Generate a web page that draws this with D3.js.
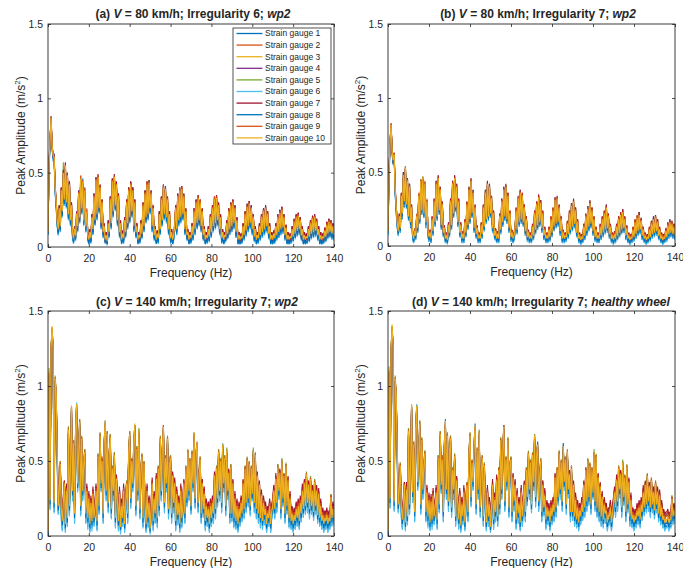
<!DOCTYPE html>
<html>
<head>
<meta charset="utf-8">
<script src="https://cdn.jsdelivr.net/npm/d3@7/dist/d3.min.js"></script>
<style>
  body { margin: 0; background: #fff; }
  svg { display: block; }
  text { font-family: "Liberation Sans", Arial, Helvetica, sans-serif; fill: #262626; white-space: pre; }
</style>
</head>
<body>
<svg id="fig" width="683" height="568"></svg>
<script>
// ---- shared categories / ticks ----
const gaugeNames = ["Strain gauge 1","Strain gauge 2","Strain gauge 3","Strain gauge 4","Strain gauge 5",
                    "Strain gauge 6","Strain gauge 7","Strain gauge 8","Strain gauge 9","Strain gauge 10"];
const gaugeColors = ["#0072BD","#D95319","#EDB120","#7E2F8E","#77AC30","#4DBEEE","#A2142F","#0072BD","#D95319","#EDB120"];
const freqStepHz = 0.5;          // spectra sampled every 0.5 Hz from 0 Hz (281 bins up to 140 Hz)
const ampScale = 0.01;           // amplitudes stored in hundredths of m/s^2
const xTicks = [0, 20, 40, 60, 80, 100, 120, 140];
const yTicks = [0, 0.5, 1, 1.5];
const yTickLabels = ["0", "0.5", "1", "1.5"];

// ---- (a) V = 80 km/h, irregularity 6, wp2 ----
const sgA1 = [8,50,70,84,70,58,63,36,27,14,8,24,10,36,20,52,28,53,26,50,
18,44,14,26,6,3,9,5,20,10,38,16,44,22,46,15,40,10,22,5,
3,7,3,22,8,32,15,47,18,45,28,38,12,32,6,12,3,5,2,13,
7,34,12,42,20,49,25,40,14,36,6,13,3,6,3,15,7,28,12,40,
16,44,20,40,10,28,6,11,3,5,3,13,6,26,10,38,16,40,18,45,
22,38,10,24,5,9,3,6,3,19,9,30,14,42,18,41,16,30,8,20,
3,7,2,5,11,24,8,32,14,40,16,37,18,36,8,22,5,7,2,5,
3,11,5,22,8,32,12,31,14,32,10,22,5,9,2,5,3,9,4,18,
7,24,10,34,12,31,14,30,8,18,3,7,2,5,4,13,6,22,8,30,
10,28,12,28,6,16,2,5,2,4,3,11,5,20,7,29,10,27,12,28,
8,18,4,9,2,5,3,11,5,18,6,22,8,28,10,20,6,11,2,5,
2,6,3,11,5,18,6,25,8,23,9,22,5,10,2,5,2,4,3,9,
4,15,6,22,7,19,8,20,5,9,2,5,2,4,3,9,4,14,6,21,
6,18,7,19,5,10,2,5,2,4,3,8,4,13,6,19,7,14,5,16,5];
const sgA2 = [12,58,74,86,66,64,58,42,32,20,14,28,16,40,26,48,34,56,32,50,
24,44,20,30,12,8,14,10,24,16,38,22,48,28,42,20,40,16,26,10,
7,12,8,22,14,36,20,44,24,48,28,42,18,32,12,16,7,10,6,18,
12,34,18,46,26,45,30,44,20,36,12,18,7,11,8,20,12,32,18,40,
22,40,26,40,16,32,12,16,7,10,8,18,11,30,16,38,22,44,24,41,
28,38,16,28,10,14,7,11,8,24,14,34,20,41,24,37,22,34,14,24,
8,12,7,10,16,28,14,36,20,36,22,41,24,32,14,26,10,12,7,10,
8,16,10,26,14,28,18,35,20,28,16,26,10,14,7,10,8,14,9,22,
12,28,16,30,18,35,20,26,14,22,8,12,7,10,9,18,11,26,14,26,
16,32,18,24,12,20,7,10,7,9,8,16,10,24,13,25,16,31,18,24,
14,22,9,14,7,10,8,16,10,22,12,26,14,24,16,24,11,16,7,10,
7,11,8,16,10,22,12,21,14,27,15,18,10,15,7,10,7,9,8,14,
9,19,11,18,13,23,14,16,10,14,7,10,7,9,8,14,9,18,11,17,
12,22,13,15,10,14,7,10,7,9,8,13,9,17,11,15,12,18,11,12,10];
const sgA3 = [9,54,71,86,67,61,59,39,29,17,11,25,13,37,23,49,31,54,29,47,
21,41,17,27,9,5,11,7,21,13,35,19,45,25,43,17,37,13,23,7,
4,9,5,19,11,33,17,44,21,46,25,39,15,29,9,13,4,7,3,15,
9,31,15,43,23,46,27,41,17,33,9,15,4,8,5,17,9,29,15,37,
19,41,23,37,13,29,9,13,4,7,5,15,8,27,13,35,19,41,21,42,
25,35,13,25,7,11,4,8,5,21,11,31,17,39,21,38,19,31,11,21,
5,9,4,7,13,25,11,33,17,37,19,38,21,33,11,23,7,9,4,7,
5,13,7,23,11,29,15,32,17,29,13,23,7,11,4,7,5,11,6,19,
9,25,13,31,15,32,17,27,11,19,5,9,4,7,6,15,8,23,11,27,
13,29,15,25,9,17,4,7,4,6,5,13,7,21,10,26,13,28,15,25,
11,19,6,11,4,7,5,13,7,19,9,23,11,25,13,21,8,13,4,7,
4,8,5,13,7,19,9,22,11,24,12,19,7,12,4,7,4,6,5,11,
6,16,8,19,10,20,11,17,7,11,4,7,4,6,5,11,6,15,8,18,
9,19,10,16,7,11,4,7,4,6,5,10,6,14,8,16,9,15,8,13,7];
const sgA4 = [11,52,73,85,70,60,62,38,32,16,10,28,12,40,22,48,34,52,32,46,
20,44,16,30,8,4,14,6,24,12,38,18,44,28,42,20,36,16,22,10,
4,12,4,22,10,36,16,43,24,45,28,38,18,28,12,12,4,10,3,18,
8,34,14,46,22,45,30,40,20,32,12,14,4,11,5,20,8,32,14,40,
18,44,22,40,12,32,8,16,4,10,5,18,8,30,12,38,18,44,20,41,
28,34,16,24,10,10,4,11,5,24,10,34,16,38,24,37,22,30,14,20,
4,12,4,10,12,28,10,36,16,36,22,37,24,32,14,22,10,8,4,10,
4,16,6,26,10,32,14,31,20,28,16,22,10,10,4,10,4,14,5,22,
8,28,12,34,14,31,20,26,14,18,8,8,4,10,5,18,7,26,10,30,
12,32,14,28,8,20,4,10,4,9,4,16,6,24,9,29,12,31,14,28,
10,22,5,14,4,10,4,16,6,22,8,26,10,28,12,24,7,16,4,10,
4,11,4,16,6,22,8,25,10,27,11,22,6,15,4,10,4,9,4,14,
5,19,7,22,9,23,10,20,6,14,4,10,4,9,4,14,5,18,7,21,
8,22,9,19,6,14,4,10,4,9,4,13,5,17,7,19,8,18,7,16,6];
const sgA5 = [11,53,71,88,66,63,58,41,29,19,11,27,13,39,23,57,31,54,29,49,
21,43,17,29,9,7,11,9,21,15,35,21,45,27,43,19,37,15,23,9,
4,11,5,21,11,35,17,46,21,48,25,41,15,31,9,15,4,9,3,17,
9,33,15,45,23,48,27,43,17,35,9,17,4,10,5,19,9,31,15,39,
19,43,23,39,13,31,9,15,4,9,5,17,8,29,13,37,19,43,21,45,
25,37,13,27,7,13,4,10,5,23,11,33,17,41,21,40,19,33,11,23,
5,11,4,9,13,27,11,35,17,39,19,40,21,35,11,25,7,11,4,9,
5,15,7,25,11,31,15,34,17,31,13,25,7,13,4,9,5,13,6,21,
9,27,13,33,15,34,17,29,11,21,5,11,4,9,6,17,8,25,11,29,
13,31,15,27,9,19,4,9,4,8,5,15,7,23,10,28,13,30,15,27,
11,21,6,13,4,9,5,15,7,21,9,25,11,27,13,23,8,15,4,9,
4,10,5,15,7,21,9,24,11,26,12,21,7,14,4,9,4,8,5,13,
6,18,8,21,10,22,11,19,7,13,4,9,4,8,5,13,6,17,8,20,
9,21,10,18,7,13,4,9,4,8,5,12,6,16,8,18,9,17,8,15,7];
const sgA6 = [8,51,69,83,65,58,57,37,26,14,8,22,10,35,20,47,28,52,26,45,
18,39,14,25,6,2,8,4,18,10,33,16,43,22,41,14,35,10,20,4,
2,6,2,17,8,31,14,42,18,44,22,37,12,27,6,10,2,4,1,12,
6,29,12,41,20,44,24,39,14,31,6,12,2,5,2,14,6,27,12,35,
16,39,20,35,10,27,6,10,2,4,2,12,5,25,10,33,16,39,18,40,
22,33,10,23,4,8,2,5,2,19,8,29,14,37,18,36,16,29,8,19,
2,6,2,4,10,23,8,31,14,35,16,36,18,31,8,21,4,6,2,4,
2,10,4,21,8,27,12,30,14,27,10,21,4,8,2,4,2,8,3,17,
6,23,10,29,12,30,14,25,8,17,2,6,2,4,3,13,5,21,8,25,
10,27,12,23,6,15,2,4,2,3,2,11,4,19,7,24,10,26,12,23,
8,17,3,9,2,4,2,11,4,17,6,21,8,23,10,19,5,11,2,4,
2,5,2,11,4,17,6,20,8,22,9,17,4,10,2,4,2,3,2,9,
3,14,5,17,7,18,8,15,4,9,2,4,2,3,2,9,3,13,5,16,
6,17,7,14,4,9,2,4,2,3,2,8,3,12,5,14,6,13,5,11,4];
const sgA7 = [12,57,70,88,70,60,62,42,28,20,10,28,12,40,22,52,30,57,28,50,
20,44,16,30,8,8,10,10,20,16,34,22,44,28,42,20,36,16,22,10,
3,12,4,22,10,36,16,47,20,49,24,42,14,32,8,16,3,10,2,18,
8,34,14,46,22,49,26,44,16,36,8,18,3,11,4,20,8,32,14,40,
18,44,22,40,12,32,8,16,3,10,4,18,7,30,12,38,18,44,20,45,
24,38,12,28,6,14,3,11,4,24,10,34,16,42,20,41,18,34,10,24,
4,12,3,10,12,28,10,36,16,40,18,41,20,36,10,26,6,12,3,10,
4,16,6,26,10,32,14,35,16,32,12,26,6,14,3,10,4,14,5,22,
8,28,12,34,14,35,16,30,10,22,4,12,3,10,5,18,7,26,10,30,
12,32,14,28,8,20,3,10,3,9,4,16,6,24,9,29,12,31,14,28,
10,22,5,14,3,10,4,16,6,22,8,26,10,28,12,24,7,16,3,10,
3,11,4,16,6,22,8,25,10,27,11,22,6,15,3,10,3,9,4,14,
5,19,7,22,9,23,10,20,6,14,3,10,3,9,4,14,5,18,7,21,
8,22,9,19,6,14,3,10,3,9,4,13,5,17,7,19,8,18,7,16,6];
const sgA8 = [9,53,71,85,66,60,58,38,28,15,9,24,11,36,21,48,29,53,27,46,
19,40,15,26,7,3,9,5,19,11,34,17,44,23,42,15,36,11,21,5,
2,7,3,18,9,32,15,43,19,45,23,38,13,28,7,11,3,5,2,13,
7,30,13,42,21,45,25,40,15,32,7,13,2,6,3,15,7,28,13,36,
17,40,21,36,11,28,7,11,2,5,3,13,6,26,11,34,17,40,19,41,
23,34,11,24,5,9,2,6,3,20,9,30,15,38,19,37,17,30,9,20,
3,7,2,5,11,24,9,32,15,36,17,37,19,32,9,22,5,7,2,5,
3,11,5,22,9,28,13,31,15,28,11,22,5,9,2,5,3,9,4,18,
7,24,11,30,13,31,15,26,9,18,3,7,2,5,4,14,6,22,9,26,
11,28,13,24,7,16,2,5,2,4,3,12,5,20,8,25,11,27,13,24,
9,18,4,10,2,5,3,12,5,18,7,22,9,24,11,20,6,12,2,5,
2,6,3,12,5,18,7,21,9,23,10,18,5,11,2,5,2,4,3,10,
4,15,6,18,8,19,9,16,5,10,2,5,2,4,3,10,4,14,6,17,
7,18,8,15,5,10,2,5,2,4,3,9,4,13,6,15,7,14,6,12,5];
const sgA9 = [11,57,72,86,69,61,61,40,31,17,13,26,15,39,25,50,33,55,31,49,
23,42,19,28,11,5,13,7,23,13,37,19,48,25,45,17,39,13,25,7,
6,10,7,20,13,35,19,46,23,49,27,40,17,31,11,13,6,7,5,15,
11,33,17,45,25,48,29,42,19,35,11,15,6,8,7,18,11,31,17,39,
21,43,25,38,15,31,11,13,6,7,7,15,10,29,15,37,21,44,23,44,
27,37,15,26,9,11,6,8,7,22,13,33,19,42,23,40,21,33,13,22,
7,10,6,8,15,27,13,35,19,40,21,40,23,35,13,24,9,10,6,8,
7,14,9,25,13,31,17,34,19,32,15,24,9,12,6,8,7,12,8,21,
11,27,15,34,17,34,19,28,13,20,7,10,6,8,8,16,10,25,13,29,
15,31,17,27,11,18,6,8,6,7,7,14,9,23,12,28,15,30,17,27,
13,21,8,12,6,8,7,14,9,21,11,25,13,27,15,23,10,14,6,8,
6,9,7,14,9,21,11,24,13,26,14,21,9,13,6,8,6,7,7,12,
8,18,10,21,12,22,13,19,9,12,6,8,6,7,7,12,8,17,10,20,
11,21,12,18,9,12,6,8,6,7,7,11,8,16,10,18,11,17,10,14,9];
const sgA10 = [10,55,72,87,68,62,60,40,30,18,12,26,14,38,24,50,32,55,30,48,
22,42,18,28,10,6,12,8,22,14,36,20,46,26,44,18,38,14,24,8,
5,10,6,20,12,34,18,45,22,47,26,40,16,30,10,14,5,8,4,16,
10,32,16,44,24,47,28,42,18,34,10,16,5,9,6,18,10,30,16,38,
20,42,24,38,14,30,10,14,5,8,6,16,9,28,14,36,20,42,22,43,
26,36,14,26,8,12,5,9,6,22,12,32,18,40,22,39,20,32,12,22,
6,10,5,8,14,26,12,34,18,38,20,39,22,34,12,24,8,10,5,8,
6,14,8,24,12,30,16,33,18,30,14,24,8,12,5,8,6,12,7,20,
10,26,14,32,16,33,18,28,12,20,6,10,5,8,7,16,9,24,12,28,
14,30,16,26,10,18,5,8,5,7,6,14,8,22,11,27,14,29,16,26,
12,20,7,12,5,8,6,14,8,20,10,24,12,26,14,22,9,14,5,8,
5,9,6,14,8,20,10,23,12,25,13,20,8,13,5,8,5,7,6,12,
7,17,9,20,11,21,12,18,8,12,5,8,5,7,6,12,7,16,9,19,
10,20,11,17,8,12,5,8,5,7,6,11,7,15,9,17,10,16,9,14,8];

// ---- (b) V = 80 km/h, irregularity 7, wp2 ----
const sgB1 = [8,46,68,80,66,55,62,35,22,12,7,18,9,32,18,50,26,51,25,46,
17,42,12,24,5,2,7,4,17,9,32,15,45,21,44,19,40,12,28,6,
3,6,2,16,7,28,13,44,17,44,21,40,11,26,6,9,2,4,2,11,
6,28,11,44,19,44,23,42,13,28,6,11,2,5,2,13,6,26,11,40,
15,42,19,38,9,24,5,9,2,4,2,11,5,24,10,38,15,40,17,42,
19,30,9,20,4,7,2,5,2,18,8,28,13,40,17,38,15,36,9,20,
3,6,2,4,9,22,8,30,13,38,15,32,13,24,7,16,3,6,2,4,
2,10,4,20,8,30,11,31,13,31,9,20,4,8,2,4,2,8,3,16,
6,22,10,33,12,30,13,24,7,16,2,6,2,4,3,13,5,20,8,29,
10,28,12,26,6,14,2,4,1,3,2,11,4,18,7,27,10,27,12,26,
7,16,3,8,2,4,2,11,4,16,6,20,8,28,9,18,5,11,2,4,
1,5,2,11,4,16,6,19,8,25,9,16,4,10,2,4,1,3,2,9,
3,14,5,17,7,23,8,15,4,9,2,4,1,3,2,9,3,13,5,20,
6,17,7,18,4,9,2,4,1,3,2,8,3,12,5,18,6,13,5,15,4];
const sgB2 = [12,52,72,81,62,60,60,40,28,18,12,22,14,36,24,46,32,54,30,42,
22,42,18,28,10,7,12,9,22,14,36,20,42,26,47,24,44,18,32,12,
8,11,7,20,12,32,18,40,22,47,26,36,16,30,11,14,7,9,6,16,
11,32,16,40,24,47,28,38,18,32,11,16,7,10,7,18,11,30,16,36,
20,45,24,34,14,28,10,14,7,9,7,16,10,28,15,34,20,43,22,38,
24,34,14,24,9,12,7,10,7,22,13,32,18,36,22,41,20,36,14,24,
8,11,7,9,14,26,13,30,18,37,20,36,18,28,12,20,8,11,7,9,
7,15,9,24,13,26,16,34,18,27,14,24,9,13,7,9,7,13,8,20,
11,26,15,29,17,33,18,28,12,20,7,11,7,9,8,17,10,24,13,25,
15,31,17,26,11,18,7,9,6,8,7,15,9,22,12,23,15,30,17,26,
12,20,8,13,7,9,7,15,9,20,11,24,13,24,14,22,10,15,7,9,
6,10,7,15,9,20,11,23,13,21,14,20,9,14,7,9,6,8,7,13,
8,18,10,17,12,23,13,19,9,13,7,9,6,8,7,13,8,17,10,16,
11,21,12,18,9,13,7,9,6,8,7,12,8,16,10,14,11,17,10,15,9];
const sgB3 = [9,49,69,81,63,57,61,37,25,15,9,19,11,33,21,47,29,52,27,43,
19,39,15,25,7,4,9,6,19,11,33,17,43,23,45,21,41,15,29,9,
5,8,4,17,9,29,15,41,19,45,23,37,13,27,8,11,4,6,3,13,
8,29,13,41,21,45,25,39,15,29,8,13,4,7,4,15,8,27,13,37,
17,43,21,35,11,25,7,11,4,6,4,13,7,25,12,35,17,41,19,39,
21,31,11,21,6,9,4,7,4,19,10,29,15,37,19,39,17,33,11,21,
5,8,4,6,11,23,10,31,15,35,17,33,15,25,9,17,5,8,4,6,
4,12,6,21,10,27,13,32,15,28,11,21,6,10,4,6,4,10,5,17,
8,23,12,30,14,31,15,25,9,17,4,8,4,6,5,14,7,21,10,26,
12,29,14,23,8,15,4,6,3,5,4,12,6,19,9,24,12,28,14,23,
9,17,5,10,4,6,4,12,6,17,8,21,10,25,11,19,7,12,4,6,
3,7,4,12,6,17,8,20,10,22,11,17,6,11,4,6,3,5,4,10,
5,15,7,18,9,20,10,16,6,10,4,6,3,5,4,10,5,14,7,17,
8,18,9,15,6,10,4,6,3,5,4,9,5,13,7,15,8,14,7,12,6];
const sgB4 = [11,48,71,80,66,56,63,36,28,14,11,18,13,32,24,46,32,51,30,42,
21,38,17,24,9,4,11,6,21,11,35,17,45,23,45,21,43,15,31,9,
7,8,6,17,11,29,17,40,21,44,25,37,15,27,10,11,6,6,5,13,
10,29,15,40,23,44,27,38,17,29,10,13,6,7,6,15,10,27,15,36,
19,42,23,34,13,25,9,11,6,6,6,13,9,25,14,34,19,40,21,38,
23,30,13,21,8,9,6,7,6,19,12,29,17,36,21,38,19,32,13,21,
7,8,6,6,13,23,12,30,17,34,19,32,17,25,11,17,7,8,6,6,
6,12,8,21,12,26,15,31,17,28,13,21,8,10,6,6,6,10,7,17,
10,23,14,29,16,30,17,25,11,17,6,8,6,6,7,14,9,21,12,26,
14,28,16,23,10,15,6,6,5,5,6,12,8,19,11,24,14,28,16,23,
11,17,7,10,6,6,6,12,8,17,10,21,12,25,13,19,9,12,6,6,
5,7,6,12,8,17,10,20,12,22,13,17,8,11,6,6,5,5,6,10,
7,15,9,18,11,20,12,16,8,10,6,6,5,5,6,10,7,14,9,17,
10,18,11,15,8,10,6,6,5,5,6,9,7,13,9,15,10,14,9,12,8];
const sgB5 = [10,51,70,83,65,59,61,39,27,17,10,21,13,35,23,49,31,54,29,45,
21,41,17,27,9,6,11,8,21,13,35,19,45,25,47,23,43,17,31,11,
7,10,6,19,11,31,17,43,21,47,25,39,15,29,10,13,6,8,5,15,
10,31,15,43,23,47,27,41,17,31,10,15,6,9,6,17,10,29,15,39,
19,45,23,37,13,27,9,13,6,8,6,15,9,27,14,37,19,43,21,41,
23,33,13,23,8,11,6,9,6,21,12,31,17,39,21,41,19,35,13,23,
7,10,6,8,13,25,12,33,17,37,19,35,17,27,11,19,7,10,6,8,
6,14,8,23,12,29,15,34,17,30,13,23,8,12,6,8,6,12,7,19,
10,25,14,32,16,33,17,27,11,19,6,10,6,8,7,16,9,23,12,28,
14,31,16,25,10,17,6,8,5,7,6,14,8,21,11,26,14,30,16,25,
11,19,7,12,6,8,6,14,8,19,10,23,12,27,13,21,9,14,6,8,
5,9,6,14,8,19,10,22,12,24,13,19,8,13,6,8,5,7,6,12,
7,17,9,20,11,22,12,18,8,12,6,8,5,7,6,12,7,16,9,19,
10,20,11,17,8,12,6,8,5,7,6,11,7,15,9,17,10,16,9,14,8];
const sgB6 = [7,47,67,79,61,55,59,35,23,13,7,17,9,31,19,45,27,50,25,41,
17,37,13,23,5,2,7,4,17,9,31,15,41,21,43,19,39,13,27,7,
3,6,2,15,7,27,13,39,17,43,21,35,11,25,6,9,2,4,1,11,
6,27,11,39,19,43,23,37,13,27,6,11,2,5,2,13,6,25,11,35,
15,41,19,33,9,23,5,9,2,4,2,11,5,23,10,33,15,39,17,37,
19,29,9,19,4,7,2,5,2,17,8,27,13,35,17,37,15,31,9,19,
3,6,2,4,9,21,8,29,13,33,15,31,13,23,7,15,3,6,2,4,
2,10,4,19,8,25,11,30,13,26,9,19,4,8,2,4,2,8,3,15,
6,21,10,28,12,29,13,23,7,15,2,6,2,4,3,12,5,19,8,24,
10,27,12,21,6,13,2,4,1,3,2,10,4,17,7,22,10,26,12,21,
7,15,3,8,2,4,2,10,4,15,6,19,8,23,9,17,5,10,2,4,
1,5,2,10,4,15,6,18,8,20,9,15,4,9,2,4,1,3,2,8,
3,13,5,16,7,18,8,14,4,8,2,4,1,3,2,8,3,12,5,15,
6,16,7,13,4,8,2,4,1,3,2,7,3,11,5,13,6,12,5,10,4];
const sgB7 = [11,52,68,83,66,56,63,40,25,18,9,22,11,36,20,50,28,53,27,46,
19,42,14,28,7,7,9,9,19,14,33,20,44,26,45,24,41,18,29,12,
5,11,4,20,9,32,15,44,19,48,23,40,13,30,8,14,4,9,3,16,
8,32,13,44,21,48,25,42,15,32,8,16,4,10,4,18,8,30,13,40,
17,46,21,38,11,28,7,14,4,9,4,16,7,28,12,38,17,44,19,42,
21,34,11,24,6,12,4,10,4,22,10,32,15,40,19,42,17,36,11,24,
5,11,4,9,11,26,10,34,15,38,17,36,15,28,9,20,5,11,4,9,
4,15,6,24,10,30,13,35,15,31,11,24,6,13,4,9,4,13,5,20,
8,26,12,33,14,34,15,28,9,20,4,11,4,9,5,17,7,24,10,29,
12,32,14,26,8,18,4,9,3,8,4,15,6,22,9,27,12,31,14,26,
9,20,5,13,4,9,4,15,6,20,8,24,10,28,11,22,7,15,4,9,
3,10,4,15,6,20,8,23,10,25,11,20,6,14,4,9,3,8,4,13,
5,18,7,21,9,23,10,19,6,13,4,9,3,8,4,13,5,17,7,20,
8,21,9,18,6,13,4,9,3,8,4,12,5,16,7,18,8,17,7,15,6];
const sgB8 = [9,48,69,81,63,56,61,36,24,14,8,18,10,33,20,47,28,52,26,43,
18,39,14,24,6,3,8,5,18,10,33,16,43,22,45,20,41,14,29,8,
4,7,3,16,8,29,14,41,18,45,22,37,12,27,7,10,3,5,2,12,
7,29,12,41,20,45,24,39,14,29,7,12,3,6,3,14,7,27,12,37,
16,43,20,35,10,25,6,10,3,5,3,12,6,25,11,35,16,41,18,39,
20,31,10,21,5,8,3,6,3,19,9,29,14,37,18,39,16,33,10,21,
4,7,3,5,10,23,9,31,14,35,16,33,14,25,8,17,4,7,3,5,
3,11,5,21,9,27,12,32,14,28,10,21,5,9,3,5,3,9,4,17,
7,23,11,30,13,31,14,25,8,17,3,7,3,5,4,13,6,21,9,26,
11,29,13,23,7,15,3,5,2,4,3,11,5,19,8,24,11,28,13,23,
8,17,4,9,3,5,3,11,5,17,7,21,9,25,10,19,6,11,3,5,
2,6,3,11,5,17,7,20,9,22,10,17,5,10,3,5,2,4,3,9,
4,15,6,18,8,20,9,16,5,9,3,5,2,4,3,9,4,14,6,17,
7,18,8,15,5,9,3,5,2,4,3,8,4,13,6,15,7,14,6,11,5];
const sgB9 = [11,50,71,82,65,59,63,39,27,17,11,20,13,35,23,48,31,53,29,45,
21,41,17,27,9,6,11,8,21,13,35,19,45,25,46,23,43,17,31,11,
7,10,6,19,11,31,17,43,21,46,25,39,15,29,10,13,6,8,5,15,
10,31,15,43,23,46,27,41,17,31,10,15,6,9,6,17,10,29,15,39,
19,44,23,37,13,27,9,13,6,8,6,15,9,27,14,37,19,42,21,41,
23,33,13,23,8,11,6,9,6,21,12,31,17,39,21,40,19,35,13,23,
7,10,6,8,13,25,12,33,17,37,19,35,17,27,11,19,7,10,6,8,
6,14,8,23,12,29,15,33,17,30,13,23,8,12,6,8,6,12,7,19,
10,25,14,32,16,32,17,27,11,19,6,10,6,8,7,16,9,23,12,28,
14,30,16,25,10,17,6,8,5,7,6,14,8,21,11,26,14,29,16,25,
11,19,7,12,6,8,6,14,8,19,10,23,12,26,13,21,9,14,6,8,
5,9,6,14,8,19,10,22,12,23,13,19,8,13,6,8,5,7,6,12,
7,17,9,20,11,21,12,18,8,12,6,8,5,7,6,12,7,16,9,18,
10,20,11,17,8,12,6,8,5,7,6,11,7,15,9,16,10,16,9,14,8];
const sgB10 = [10,50,70,82,64,58,62,38,26,16,10,20,12,34,22,48,30,53,28,44,
20,40,16,26,8,5,10,7,20,12,34,18,44,24,46,22,42,16,30,10,
6,9,5,18,10,30,16,42,20,46,24,38,14,28,9,12,5,7,4,14,
9,30,14,42,22,46,26,40,16,30,9,14,5,8,5,16,9,28,14,38,
18,44,22,36,12,26,8,12,5,7,5,14,8,26,13,36,18,42,20,40,
22,32,12,22,7,10,5,8,5,20,11,30,16,38,20,40,18,34,12,22,
6,9,5,7,12,24,11,32,16,36,18,34,16,26,10,18,6,9,5,7,
5,13,7,22,11,28,14,33,16,29,12,22,7,11,5,7,5,11,6,18,
9,24,13,31,15,32,16,26,10,18,5,9,5,7,6,15,8,22,11,27,
13,30,15,24,9,16,5,7,4,6,5,13,7,20,10,25,13,29,15,24,
10,18,6,11,5,7,5,13,7,18,9,22,11,26,12,20,8,13,5,7,
4,8,5,13,7,18,9,21,11,23,12,18,7,12,5,7,4,6,5,11,
6,16,8,19,10,21,11,17,7,11,5,7,4,6,5,11,6,15,8,18,
9,19,10,16,7,11,5,7,4,6,5,10,6,14,8,16,9,15,8,13,7];

// ---- (c) V = 140 km/h, irregularity 7, wp2 ----
const sgC1 = [2,104,18,121,134,122,16,102,92,50,15,26,45,12,4,18,31,3,27,7,
68,14,42,84,24,58,9,67,88,30,52,73,14,62,24,45,52,9,26,6,
21,3,18,5,24,7,14,26,4,50,15,64,30,46,9,58,74,24,65,16,
51,64,12,41,24,51,6,34,17,4,24,2,15,7,26,3,18,31,9,52,
65,19,47,30,58,73,14,55,24,68,12,42,50,6,45,14,3,26,6,18,
2,13,31,4,21,9,34,6,42,14,62,24,55,71,16,49,30,62,12,45,
49,9,37,16,31,4,24,8,18,3,26,6,15,31,9,42,20,53,24,47,
15,52,30,66,19,52,60,16,37,48,9,31,13,24,4,16,7,13,3,17,
7,18,9,37,12,42,20,54,25,47,16,60,31,49,14,55,25,39,9,43,
10,31,6,21,5,16,3,14,7,18,10,31,12,42,16,49,20,45,14,42,
24,55,16,52,12,37,9,31,6,24,5,18,8,14,3,11,7,16,3,12,
15,27,12,35,16,44,25,39,12,47,20,37,9,44,15,34,6,21,5,11,
3,10,5,14,7,16,5,18,10,27,13,32,15,39,16,31,12,35,15,27,
11,33,15,27,9,25,7,16,5,10,3,8,5,10,3,8,5,23,7,15,8];
const sgC2 = [4,108,27,126,138,124,27,104,96,58,24,33,50,22,13,25,37,12,33,15,
73,24,48,86,34,64,19,72,85,38,58,78,24,66,33,50,58,19,33,15,
28,12,25,14,31,15,22,33,14,55,24,69,38,53,19,63,75,34,70,26,
57,68,22,47,33,56,16,40,26,14,31,10,24,15,33,12,25,37,19,57,
70,28,52,38,64,73,24,60,33,71,22,47,55,16,50,24,12,33,16,26,
9,22,37,14,28,19,40,16,47,24,66,34,60,74,26,54,38,66,22,50,
54,19,42,25,38,14,31,18,25,12,33,16,24,37,19,47,28,57,33,52,
24,57,38,69,28,57,63,26,42,53,19,38,22,31,14,24,16,22,12,24,
16,26,18,42,22,47,28,58,33,52,26,61,38,54,24,58,33,44,19,48,
19,37,16,28,14,24,12,22,16,25,19,37,22,47,26,52,28,50,24,47,
31,57,26,55,22,42,19,36,16,29,14,25,18,21,12,19,16,24,12,20,
24,32,22,40,25,48,33,44,22,51,28,42,19,48,24,39,16,28,14,19,
12,18,14,22,16,24,14,25,19,33,22,37,24,42,26,36,22,40,24,33,
20,38,24,33,18,30,16,23,14,18,12,15,14,17,12,15,14,28,16,21,16];
const sgC3 = [3,109,23,124,139,124,21,104,94,54,19,29,47,17,9,21,34,7,29,11,
70,19,44,86,29,61,14,69,87,34,54,75,19,64,29,47,55,14,29,11,
24,7,21,9,27,11,17,29,9,52,19,66,34,49,14,61,76,29,67,21,
54,65,17,44,29,53,11,37,21,9,27,5,19,11,29,7,21,34,14,54,
67,24,49,34,61,74,19,57,29,69,17,44,52,11,47,19,7,29,11,21,
4,17,34,9,24,14,37,11,44,19,64,29,57,72,21,51,34,64,17,47,
51,14,39,21,34,9,27,13,21,7,29,11,19,34,14,44,24,55,29,49,
19,54,34,67,24,54,61,21,39,50,14,34,17,27,9,19,11,17,7,19,
11,21,14,39,17,44,24,55,29,49,21,60,34,51,19,56,29,41,14,45,
14,34,11,24,9,19,7,17,11,21,14,34,17,44,21,50,24,47,19,44,
27,56,21,53,17,39,14,33,11,26,9,21,13,17,7,14,11,19,7,15,
19,29,17,37,21,45,29,41,17,49,24,39,14,46,19,36,11,24,9,14,
7,13,9,17,11,19,9,21,14,29,17,34,19,40,21,33,17,37,19,29,
15,35,19,29,13,27,11,19,9,13,7,11,9,13,7,11,9,25,11,17,11];
const sgC4 = [2,106,26,122,136,126,25,101,93,57,22,33,46,21,12,25,32,11,33,14,
68,23,47,84,33,60,18,68,85,38,52,73,23,62,33,46,53,18,33,14,
28,10,25,13,31,14,21,33,12,50,23,65,38,47,18,60,74,33,65,25,
52,63,21,42,33,51,14,35,25,12,31,9,23,15,33,10,25,32,18,52,
65,28,47,38,59,72,23,55,33,67,21,42,50,15,45,23,10,33,15,25,
8,21,32,13,28,18,35,15,42,23,62,33,55,70,25,49,38,62,21,45,
49,18,37,25,32,13,31,17,25,10,33,15,23,32,18,42,28,53,33,47,
23,52,38,65,28,52,59,25,37,48,18,32,21,30,13,23,15,21,11,23,
15,25,18,37,21,42,28,53,33,47,25,58,38,49,23,54,33,39,18,43,
18,32,15,28,13,23,11,21,15,25,18,32,21,42,25,48,28,45,23,42,
31,54,25,51,21,37,18,31,15,24,13,25,17,21,11,18,15,23,11,19,
23,27,21,35,25,43,33,39,21,47,28,37,18,44,23,34,15,28,13,18,
11,17,13,21,15,23,13,25,18,27,21,32,23,38,25,31,21,35,23,27,
19,33,23,27,17,25,15,23,13,17,11,15,13,17,11,15,13,23,15,21,15];
const sgC5 = [4,112,25,127,136,127,24,107,96,56,22,32,50,19,11,23,36,10,32,13,
73,21,47,85,32,64,17,72,86,37,57,78,22,67,32,50,58,17,32,14,
27,10,24,12,30,13,20,32,12,55,22,69,37,52,17,64,74,32,70,24,
57,68,20,47,32,56,14,40,24,12,30,8,22,14,32,10,24,37,17,57,
70,27,52,37,64,73,22,60,32,72,20,47,55,14,50,22,10,32,14,24,
7,20,37,12,27,17,40,14,47,22,67,32,60,71,24,54,37,67,20,50,
54,17,42,24,37,12,30,16,24,10,32,14,22,37,17,47,27,58,32,52,
22,57,37,69,27,57,61,24,42,53,17,37,20,30,12,22,14,20,10,22,
14,24,17,42,20,47,27,58,32,52,24,59,37,54,22,59,32,44,17,48,
17,37,14,27,12,22,10,20,14,24,17,37,20,47,24,53,27,50,22,47,
30,59,24,56,20,42,17,36,14,29,12,24,16,20,10,17,14,22,10,18,
22,32,20,40,24,48,32,44,20,52,27,42,17,49,22,39,14,27,12,17,
10,16,12,20,14,22,12,24,17,32,20,37,22,43,24,36,20,40,22,32,
18,38,22,32,16,30,14,22,12,16,10,14,12,16,10,14,12,28,14,20,14];
const sgC6 = [1,104,17,120,130,121,15,103,90,50,14,24,46,11,3,16,30,2,25,6,
68,13,41,85,23,58,8,68,89,29,52,73,13,63,23,44,52,8,25,4,
20,2,16,3,23,6,13,25,3,54,14,63,29,46,8,58,73,23,65,15,
50,63,11,40,23,50,5,33,16,3,23,1,14,6,25,2,16,30,8,51,
64,18,46,29,57,71,13,54,23,66,11,41,48,5,44,13,2,25,5,17,
1,12,30,3,20,8,33,5,41,13,61,23,54,70,15,48,29,61,11,44,
48,8,36,15,30,3,23,7,16,2,25,5,14,30,8,41,19,52,23,46,
14,53,29,66,18,51,60,15,36,47,8,30,12,23,3,15,6,12,2,16,
6,17,8,36,11,41,19,52,23,46,15,62,29,48,13,54,24,38,8,42,
9,30,5,20,4,15,2,13,6,17,9,30,11,41,15,48,19,44,13,41,
23,54,15,51,11,36,8,30,5,22,4,17,7,13,2,10,6,15,2,11,
14,26,11,34,15,43,24,38,11,46,19,36,8,43,14,33,5,20,4,10,
2,9,4,13,6,15,4,17,9,26,12,31,14,37,15,30,11,34,14,26,
10,32,14,26,8,24,6,15,4,9,2,7,4,9,2,7,4,22,6,14,7];
const sgC7 = [3,107,28,124,137,123,28,103,95,58,25,35,47,23,14,27,37,13,35,16,
69,26,49,83,35,60,20,70,83,40,55,74,25,64,35,48,55,20,35,16,
30,13,27,15,33,16,23,35,15,52,25,65,40,51,20,61,73,35,66,27,
56,66,23,45,35,52,17,41,27,15,33,11,25,16,35,13,27,36,20,54,
66,30,51,40,60,71,25,56,35,68,23,45,52,17,47,25,13,35,16,27,
10,23,39,15,30,20,42,16,46,25,63,35,56,70,27,50,40,63,23,47,
50,20,43,27,39,15,33,19,27,13,35,17,25,38,20,45,30,54,35,48,
25,54,40,66,30,54,60,27,43,50,20,38,23,33,15,25,17,23,13,25,
17,27,20,43,23,45,30,55,35,48,27,58,40,50,25,55,35,45,20,44,
20,38,17,30,15,25,13,23,17,27,20,38,23,46,27,49,30,48,25,45,
33,55,27,52,23,43,20,37,17,31,15,27,19,23,13,20,17,25,13,21,
25,34,23,42,27,45,35,45,23,48,30,41,20,45,25,40,17,30,15,20,
13,19,15,23,17,25,15,27,20,35,23,38,25,40,27,37,23,38,25,34,
21,36,25,34,19,32,17,25,15,19,13,17,15,19,13,17,15,27,17,23,17];
const sgC8 = [2,108,21,123,137,124,19,103,94,52,17,27,46,15,7,19,33,5,28,9,
69,17,44,85,27,61,12,68,88,32,55,76,17,63,27,46,54,12,27,9,
22,5,19,7,25,9,15,27,7,52,17,67,32,48,12,60,77,27,67,19,
53,65,15,43,27,53,9,36,19,7,25,4,17,9,27,5,19,34,12,55,
67,22,48,32,60,74,17,57,27,69,15,43,52,9,47,17,5,27,9,19,
3,15,33,7,22,12,36,9,44,17,65,27,57,73,19,51,32,65,15,47,
51,12,38,19,32,7,25,11,19,5,27,9,17,33,12,44,22,56,27,49,
17,55,32,67,22,54,62,19,38,50,12,33,15,25,7,17,9,15,5,18,
9,19,12,38,15,44,22,56,27,49,19,61,32,51,17,56,27,40,12,45,
12,33,9,22,7,18,5,15,9,20,12,33,15,44,19,51,22,47,17,44,
25,57,19,54,15,38,12,33,9,26,7,20,11,16,5,12,9,18,5,14,
17,28,15,37,19,46,27,41,15,50,22,39,12,47,17,36,9,23,7,13,
5,12,7,16,9,18,7,20,12,28,15,34,17,40,19,33,15,37,17,29,
13,35,17,29,11,27,9,18,7,12,5,10,7,12,5,10,7,25,9,16,10];
const sgC9 = [4,109,26,125,139,126,24,106,95,57,22,32,49,20,12,24,36,11,32,14,
72,22,47,86,32,63,17,71,86,37,57,77,22,66,32,49,57,17,32,14,
27,10,24,12,30,14,20,32,12,54,22,68,37,52,17,63,76,32,69,24,
56,67,20,46,32,55,14,39,24,12,30,8,22,14,32,10,24,36,17,56,
69,27,51,37,63,74,22,59,32,70,20,46,54,14,49,22,10,32,14,24,
7,20,36,12,27,17,39,14,46,22,66,32,59,74,24,53,37,66,20,49,
53,17,41,24,36,12,30,16,24,10,32,14,22,36,17,46,27,57,32,51,
22,56,37,68,27,56,62,24,41,52,17,36,20,30,12,22,14,20,10,22,
14,24,17,41,20,46,27,57,32,51,24,61,37,53,22,57,32,43,17,47,
17,36,14,27,12,22,10,20,14,24,17,36,20,46,24,52,27,49,22,46,
30,57,24,55,20,41,17,35,14,28,12,24,16,20,10,17,14,22,10,18,
22,31,20,39,24,47,32,43,20,50,27,41,17,48,22,38,14,27,12,17,
10,16,12,20,14,22,12,24,17,31,20,36,22,42,24,35,20,39,22,31,
18,37,22,31,16,29,14,22,12,16,10,14,12,16,10,14,12,27,14,20,14];
const sgC10 = [3,110,24,125,140,125,22,105,95,55,20,30,48,18,10,22,35,8,30,12,
71,20,45,87,30,62,15,70,88,35,55,76,20,65,30,48,56,15,30,12,
25,8,22,10,28,12,18,30,10,53,20,67,35,50,15,62,77,30,68,22,
55,66,18,45,30,54,12,38,22,10,28,6,20,12,30,8,22,35,15,55,
68,25,50,35,62,75,20,58,30,70,18,45,53,12,48,20,8,30,12,22,
5,18,35,10,25,15,38,12,45,20,65,30,58,73,22,52,35,65,18,48,
52,15,40,22,35,10,28,14,22,8,30,12,20,35,15,45,25,56,30,50,
20,55,35,68,25,55,62,22,40,51,15,35,18,28,10,20,12,18,8,20,
12,22,15,40,18,45,25,56,30,50,22,61,35,52,20,57,30,42,15,46,
15,35,12,25,10,20,8,18,12,22,15,35,18,45,22,51,25,48,20,45,
28,57,22,54,18,40,15,34,12,27,10,22,14,18,8,15,12,20,8,16,
20,30,18,38,22,46,30,42,18,50,25,40,15,47,20,37,12,25,10,15,
8,14,10,18,12,20,10,22,15,30,18,35,20,41,22,34,18,38,20,30,
16,36,20,30,14,28,12,20,10,14,8,12,10,14,8,12,10,26,12,18,12];

// ---- (d) V = 140 km/h, irregularity 7, healthy wheel ----
const sgD1 = [2,105,19,120,135,123,17,101,91,51,16,27,44,13,5,17,30,4,28,8,
67,15,43,85,23,57,10,68,87,31,51,72,15,61,25,44,51,10,25,7,
20,4,19,6,23,8,15,25,5,49,16,65,29,47,10,57,74,25,64,17,
52,63,13,40,25,50,7,33,18,5,23,3,16,8,25,4,17,30,10,51,
64,20,46,31,57,72,15,54,25,67,13,41,49,7,44,15,4,25,7,17,
3,14,30,5,20,10,33,7,41,15,61,25,54,71,17,48,31,61,13,44,
48,10,36,17,30,5,23,9,17,4,25,7,16,30,10,41,21,52,25,46,
16,51,31,65,20,51,59,17,36,47,10,30,14,23,5,15,8,12,4,16,
8,17,10,36,13,41,21,53,26,46,17,59,32,48,15,54,26,38,10,42,
11,30,7,20,6,15,4,13,8,17,11,30,13,41,17,48,21,44,15,41,
25,54,17,51,13,36,10,30,7,23,6,17,9,13,4,10,8,15,4,11,
16,26,13,34,17,43,26,38,13,46,21,36,10,43,16,33,7,20,6,10,
4,9,6,13,8,15,6,17,11,26,14,31,16,38,17,30,13,34,16,26,
12,32,16,26,10,24,8,15,6,9,4,7,6,9,4,7,6,22,8,14,9];
const sgD2 = [4,109,28,125,139,125,28,104,95,59,25,34,49,23,14,24,36,13,34,16,
72,25,49,87,33,63,20,73,84,39,57,77,25,65,34,49,57,20,32,16,
27,13,26,15,30,16,23,32,15,54,25,70,37,54,20,62,75,35,69,27,
58,67,23,46,34,55,17,39,27,15,30,11,25,16,32,13,24,36,20,56,
69,29,51,39,63,72,25,59,34,70,23,46,54,17,49,25,13,32,17,25,
10,23,36,15,27,20,39,17,46,25,65,35,59,74,27,53,39,65,23,49,
53,20,41,26,37,15,30,19,24,13,32,17,25,36,20,46,29,56,34,51,
25,56,39,68,29,56,62,27,41,52,20,37,23,30,15,23,17,21,13,23,
17,25,19,41,23,46,29,57,34,51,27,60,39,53,25,57,34,43,20,47,
20,36,17,27,15,23,13,21,17,24,20,36,23,46,27,51,29,49,25,46,
32,56,27,54,23,41,20,35,17,28,15,24,19,20,13,18,17,23,13,19,
25,31,23,39,26,47,34,43,23,50,29,41,20,47,25,38,17,27,15,18,
13,17,15,21,17,23,15,24,20,32,23,36,25,41,27,35,23,39,25,32,
21,37,25,32,19,29,17,22,15,17,13,14,15,16,13,14,15,27,17,20,17];
const sgD3 = [3,110,24,123,140,125,22,104,93,55,20,30,46,18,10,20,33,8,30,12,
69,20,45,87,28,60,15,70,86,35,53,74,20,63,30,46,54,15,28,12,
23,8,22,10,26,12,18,28,10,51,20,67,33,50,15,60,76,30,66,22,
55,64,18,43,30,52,12,36,22,10,26,6,20,12,28,8,20,33,15,53,
66,25,48,35,60,73,20,56,30,68,18,43,51,12,46,20,8,28,12,20,
5,18,33,10,23,15,36,12,43,20,63,30,56,72,22,50,35,63,18,46,
50,15,38,22,33,10,26,14,20,8,28,12,20,33,15,43,25,54,30,48,
20,53,35,66,25,53,60,22,38,49,15,33,18,26,10,18,12,16,8,18,
12,20,15,38,18,43,25,54,30,48,22,59,35,50,20,55,30,40,15,44,
15,33,12,23,10,18,8,16,12,20,15,33,18,43,22,49,25,46,20,43,
28,55,22,52,18,38,15,32,12,25,10,20,14,16,8,13,12,18,8,14,
20,28,18,36,22,44,30,40,18,48,25,38,15,45,20,35,12,23,10,13,
8,12,10,16,12,18,10,20,15,28,18,33,20,39,22,32,18,36,20,28,
16,34,20,28,14,26,12,18,10,12,8,10,10,12,8,10,10,24,12,16,12];
const sgD4 = [2,107,27,121,137,127,26,102,92,58,23,34,45,22,13,23,31,12,34,15,
67,24,48,85,32,59,19,69,84,39,51,72,24,61,34,45,52,19,32,15,
27,11,26,14,30,15,22,32,13,49,24,66,37,48,19,59,74,34,64,26,
53,62,22,41,34,50,15,34,26,13,30,10,24,16,32,11,24,31,19,51,
64,29,46,39,58,71,24,54,34,66,22,41,49,16,44,24,11,32,16,24,
9,22,31,14,27,19,34,16,41,24,61,34,54,70,26,48,39,61,22,44,
48,19,36,26,31,14,30,18,24,11,32,16,24,31,19,41,29,52,34,46,
24,51,39,64,29,51,58,26,36,47,19,31,22,29,14,22,16,20,12,22,
16,24,19,36,22,41,29,52,34,46,26,57,39,48,24,53,34,38,19,42,
19,31,16,27,14,22,12,20,16,24,19,31,22,41,26,47,29,44,24,41,
32,53,26,50,22,36,19,30,16,23,14,24,18,20,12,17,16,22,12,18,
24,26,22,34,26,42,34,38,22,46,29,36,19,43,24,33,16,27,14,17,
12,16,14,20,16,22,14,24,19,26,22,31,24,37,26,30,22,34,24,26,
20,32,24,26,18,24,16,22,14,16,12,14,14,16,12,14,14,22,16,20,16];
const sgD5 = [4,113,26,126,137,128,25,107,95,57,23,33,49,20,12,22,35,11,33,14,
72,22,48,86,31,63,18,73,85,38,56,77,23,66,33,49,57,18,31,15,
26,11,25,13,29,14,21,31,13,54,23,70,36,53,18,63,74,33,69,25,
58,67,21,46,33,55,15,39,25,13,29,9,23,15,31,11,23,36,18,56,
69,28,51,38,63,72,23,59,33,71,21,46,54,15,49,23,11,31,15,23,
8,21,36,13,26,18,39,15,46,23,66,33,59,71,25,53,38,66,21,49,
53,18,41,25,36,13,29,17,23,11,31,15,23,36,18,46,28,57,33,51,
23,56,38,68,28,56,60,25,41,52,18,36,21,29,13,21,15,19,11,21,
15,23,18,41,21,46,28,57,33,51,25,58,38,53,23,58,33,43,18,47,
18,36,15,26,13,21,11,19,15,23,18,36,21,46,25,52,28,49,23,46,
31,58,25,55,21,41,18,35,15,28,13,23,17,19,11,16,15,21,11,17,
23,31,21,39,25,47,33,43,21,51,28,41,18,48,23,38,15,26,13,16,
11,15,13,19,15,21,13,23,18,31,21,36,23,42,25,35,21,39,23,31,
19,37,23,31,17,29,15,21,13,15,11,13,13,15,11,13,13,27,15,19,15];
const sgD6 = [1,105,18,119,131,122,16,102,89,51,15,25,45,12,4,15,29,3,26,7,
67,14,42,86,22,57,9,69,88,30,51,72,14,62,24,43,51,9,24,5,
19,3,17,4,22,7,14,24,4,53,15,64,28,47,9,57,73,24,64,16,
51,62,12,39,24,49,6,32,17,4,22,2,15,7,24,3,15,29,9,50,
63,19,45,30,56,70,14,53,24,65,12,40,47,6,43,14,3,24,6,16,
2,13,29,4,19,9,32,6,40,14,60,24,53,71,16,47,30,60,12,43,
47,9,35,16,29,4,22,8,15,3,24,6,15,29,9,40,20,51,24,45,
15,52,30,65,19,50,59,16,35,46,9,29,13,22,4,14,7,11,3,15,
7,16,9,35,12,40,20,51,24,45,16,61,30,47,14,53,25,37,9,41,
10,29,6,19,5,14,3,12,7,16,10,29,12,40,16,47,20,43,14,40,
24,53,16,50,12,35,9,29,6,21,5,16,8,12,3,9,7,14,3,10,
15,25,12,33,16,42,25,37,12,45,20,35,9,42,15,32,6,19,5,9,
3,8,5,12,7,14,5,16,10,25,13,30,15,36,16,29,12,33,15,25,
11,31,15,25,9,23,7,14,5,8,3,6,5,8,3,6,5,21,7,13,8];
const sgD7 = [3,108,29,123,138,124,29,103,94,59,26,36,46,24,15,26,36,14,36,17,
68,27,50,84,34,59,21,71,82,41,54,73,26,63,36,47,54,21,34,17,
29,14,28,16,32,17,24,34,16,51,26,66,39,52,21,60,73,36,65,28,
57,65,24,44,36,51,18,40,28,16,32,12,26,17,34,14,26,35,21,53,
65,31,50,41,59,70,26,55,36,67,24,44,51,18,46,26,14,34,17,26,
11,24,38,16,29,21,41,17,45,26,62,36,55,71,28,49,41,62,24,46,
49,21,42,28,38,16,32,20,26,14,34,18,26,37,21,44,31,53,36,47,
26,53,41,65,31,53,59,28,42,49,21,37,24,32,16,24,18,22,14,24,
18,26,21,42,24,44,31,54,36,47,28,57,41,49,26,54,36,44,21,43,
21,37,18,29,16,24,14,22,18,26,21,37,24,45,28,48,31,47,26,44,
34,54,28,51,24,42,21,36,18,30,16,26,20,22,14,19,18,24,14,20,
26,33,24,41,28,44,36,44,24,47,31,40,21,44,26,39,18,29,16,19,
14,18,16,22,18,24,16,26,21,34,24,37,26,39,28,36,24,37,26,33,
22,35,26,33,20,31,18,24,16,18,14,16,16,18,14,16,16,26,18,22,18];
const sgD8 = [2,109,22,122,138,125,20,103,93,53,18,28,45,16,8,18,32,6,29,10,
68,18,45,86,26,60,13,69,87,33,54,75,18,62,28,45,53,13,26,10,
21,6,20,8,24,10,16,26,8,51,18,68,31,49,13,59,78,28,66,20,
54,64,16,42,28,52,10,35,20,8,24,5,18,10,26,6,18,33,13,54,
66,23,47,33,59,75,18,56,28,68,16,42,51,10,46,18,6,26,10,18,
4,16,32,8,21,13,35,10,43,18,64,28,56,74,20,50,33,64,16,46,
50,13,37,20,31,8,24,12,18,6,26,10,18,32,13,43,23,55,28,48,
18,54,33,66,23,53,63,20,37,49,13,32,16,24,8,16,10,14,6,17,
10,18,13,37,16,43,23,55,28,48,20,62,33,50,18,55,28,39,13,44,
13,32,10,21,8,17,6,14,10,19,13,32,16,43,20,50,23,46,18,43,
26,56,20,53,16,37,13,32,10,25,8,19,12,15,6,11,10,17,6,13,
18,27,16,36,20,45,28,40,16,49,23,38,13,46,18,35,10,22,8,12,
6,11,8,15,10,17,8,19,13,27,16,33,18,39,20,32,16,36,18,28,
14,34,18,28,12,26,10,17,8,11,6,9,8,11,6,9,8,24,10,15,11];
const sgD9 = [4,110,27,124,140,127,25,106,94,58,23,33,48,21,13,23,35,12,33,15,
71,23,48,87,31,62,18,72,85,38,56,76,23,65,33,48,56,18,31,15,
26,11,25,13,29,15,21,31,13,53,23,69,36,53,18,62,76,33,68,25,
57,66,21,45,33,54,15,38,25,13,29,9,23,15,31,11,23,35,18,55,
68,28,50,38,62,73,23,58,33,69,21,45,53,15,48,23,11,31,15,23,
8,21,35,13,26,18,38,15,45,23,65,33,58,74,25,52,38,65,21,48,
52,18,40,25,35,13,29,17,23,11,31,15,23,35,18,45,28,56,33,50,
23,55,38,67,28,55,61,25,40,51,18,35,21,29,13,21,15,19,11,21,
15,23,18,40,21,45,28,56,33,50,25,60,38,52,23,56,33,42,18,46,
18,35,15,26,13,21,11,19,15,23,18,35,21,45,25,51,28,48,23,45,
31,56,25,54,21,40,18,34,15,27,13,23,17,19,11,16,15,21,11,17,
23,30,21,38,25,46,33,42,21,49,28,40,18,47,23,37,15,26,13,16,
11,15,13,19,15,21,13,23,18,30,21,35,23,41,25,34,21,38,23,30,
19,36,23,30,17,28,15,21,13,15,11,13,13,15,11,13,13,26,15,19,15];
const sgD10 = [3,111,25,124,141,126,23,105,94,56,21,31,47,19,11,21,34,9,31,13,
70,21,46,88,29,61,16,71,87,36,54,75,21,64,31,47,55,16,29,13,
24,9,23,11,27,13,19,29,11,52,21,68,34,51,16,61,77,31,67,23,
56,65,19,44,31,53,13,37,23,11,27,7,21,13,29,9,21,34,16,54,
67,26,49,36,61,74,21,57,31,69,19,44,52,13,47,21,9,29,13,21,
6,19,34,11,24,16,37,13,44,21,64,31,57,73,23,51,36,64,19,47,
51,16,39,23,34,11,27,15,21,9,29,13,21,34,16,44,26,55,31,49,
21,54,36,67,26,54,61,23,39,50,16,34,19,27,11,19,13,17,9,19,
13,21,16,39,19,44,26,55,31,49,23,60,36,51,21,56,31,41,16,45,
16,34,13,24,11,19,9,17,13,21,16,34,19,44,23,50,26,47,21,44,
29,56,23,53,19,39,16,33,13,26,11,21,15,17,9,14,13,19,9,15,
21,29,19,37,23,45,31,41,19,49,26,39,16,46,21,36,13,24,11,14,
9,13,11,17,13,19,11,21,16,29,19,34,21,40,23,33,19,37,21,29,
17,35,21,29,15,27,13,19,11,13,9,11,11,13,9,11,11,25,13,17,13];

// ---- panel layout ----
const panels = [
  { id: "a", left: 48, right: 334, top: 24, bottom: 247, titleX: 193, titleY: 18,
    title: [["(a) ", false], ["V", true], [" = 80 km/h; Irregularity 6; ", false], ["wp2", true]],
    series: [sgA1, sgA2, sgA3, sgA4, sgA5, sgA6, sgA7, sgA8, sgA9, sgA10], legend: true },
  { id: "b", left: 388, right: 675, top: 24, bottom: 246, titleX: 538, titleY: 18,
    title: [["(b) ", false], ["V", true], [" = 80 km/h; Irregularity 7; ", false], ["wp2", true]],
    series: [sgB1, sgB2, sgB3, sgB4, sgB5, sgB6, sgB7, sgB8, sgB9, sgB10], legend: false },
  { id: "c", left: 48, right: 334, top: 311, bottom: 536, titleX: 197, titleY: 306,
    title: [["(c) ", false], ["V", true], [" = 140 km/h; Irregularity 7; ", false], ["wp2", true]],
    series: [sgC1, sgC2, sgC3, sgC4, sgC5, sgC6, sgC7, sgC8, sgC9, sgC10], legend: false },
  { id: "d", left: 388, right: 675, top: 311, bottom: 536, titleX: 541, titleY: 306,
    title: [["(d) ", false], ["V", true], [" = 140 km/h; Irregularity 7; ", false], ["healthy wheel", true]],
    series: [sgD1, sgD2, sgD3, sgD4, sgD5, sgD6, sgD7, sgD8, sgD9, sgD10], legend: false }
];

const svg = d3.select("#fig");
const axisColor = "#262626";

panels.forEach(p => {
  const x = d3.scaleLinear().domain([0, 140]).range([p.left, p.right]);
  const y = d3.scaleLinear().domain([0, 1.5]).range([p.bottom, p.top]);
  const g = svg.append("g").attr("class", "panel-" + p.id);

  g.append("clipPath").attr("id", "clip-" + p.id)
    .append("rect").attr("x", p.left).attr("y", p.top)
    .attr("width", p.right - p.left).attr("height", p.bottom - p.top);

  // spectra, drawn in gauge order so gauge 10 ends up on top
  const line = d3.line()
    .x((d, j) => x(j * freqStepHz))
    .y(d => y(d * ampScale));
  const lines = g.append("g").attr("clip-path", `url(#clip-${p.id})`);
  p.series.forEach((vals, i) => {
    lines.append("path")
      .attr("d", line(vals))
      .attr("fill", "none")
      .attr("stroke", gaugeColors[i])
      .attr("stroke-width", 1.1)
      .attr("stroke-linejoin", "bevel");
  });

  // axes with inward ticks on all four sides
  const fontTick = "10.5px";
  const bottomAxis = d3.axisBottom(x).tickValues(xTicks).tickSize(-3).tickPadding(7.5).tickFormat(d3.format("d"));
  const topAxis = d3.axisTop(x).tickValues(xTicks).tickSize(-3).tickFormat("");
  const leftAxis = d3.axisLeft(y).tickValues(yTicks).tickSize(-3).tickPadding(5)
    .tickFormat((d, i) => yTickLabels[i]);
  const rightAxis = d3.axisRight(y).tickValues(yTicks).tickSize(-3).tickFormat("");

  const styleAxis = sel => {
    sel.select(".domain").remove();
    sel.selectAll("line").attr("stroke", axisColor).attr("stroke-width", 0.8);
    sel.selectAll("text").attr("fill", axisColor).style("font-size", fontTick)
      .attr("font-family", null);
  };
  g.append("g").attr("transform", `translate(0,${p.bottom})`).call(bottomAxis).call(styleAxis);
  g.append("g").attr("transform", `translate(0,${p.top})`).call(topAxis).call(styleAxis);
  g.append("g").attr("transform", `translate(${p.left},0)`).call(leftAxis).call(styleAxis);
  g.append("g").attr("transform", `translate(${p.right},0)`).call(rightAxis).call(styleAxis);

  g.append("rect")
    .attr("x", p.left).attr("y", p.top)
    .attr("width", p.right - p.left).attr("height", p.bottom - p.top)
    .attr("fill", "none").attr("stroke", axisColor).attr("stroke-width", 0.9);

  // axis labels
  g.append("text")
    .attr("x", (p.left + p.right) / 2).attr("y", p.bottom + 30)
    .attr("text-anchor", "middle").style("font-size", "12px")
    .text("Frequency (Hz)");

  const yl = g.append("text")
    .attr("transform", `translate(${p.left - 23.5},${(p.top + p.bottom) / 2}) rotate(-90)`)
    .attr("text-anchor", "middle").style("font-size", "12px");
  yl.append("tspan").text("Peak Amplitude (m/s");
  yl.append("tspan").attr("dy", -4.5).style("font-size", "8px").text("2");
  yl.append("tspan").attr("dy", 4.5).text(")");

  // title
  const t = g.append("text")
    .attr("x", p.titleX).attr("y", p.titleY)
    .attr("text-anchor", "middle").style("font-size", "12px").style("font-weight", "bold");
  p.title.forEach(([s, it]) => {
    t.append("tspan").style("font-style", it ? "italic" : "normal").text(s);
  });

  // legend
  if (p.legend) {
    const lx0 = 233, ly0 = 28, lw = 98, lh = 116;
    const lg = g.append("g");
    lg.append("rect").attr("x", lx0).attr("y", ly0).attr("width", lw).attr("height", lh)
      .attr("fill", "#fff").attr("stroke", axisColor).attr("stroke-width", 0.8);
    gaugeNames.forEach((name, i) => {
      const yy = ly0 + 5.5 + i * 11.6;
      lg.append("line").attr("x1", lx0 + 3.5).attr("x2", lx0 + 29.5)
        .attr("y1", yy).attr("y2", yy)
        .attr("stroke", gaugeColors[i]).attr("stroke-width", 1.3);
      lg.append("text").attr("x", lx0 + 32).attr("y", yy).attr("dy", "0.35em")
        .style("font-size", "8.5px").text(name);
    });
  }
});
</script>
</body>
</html>
